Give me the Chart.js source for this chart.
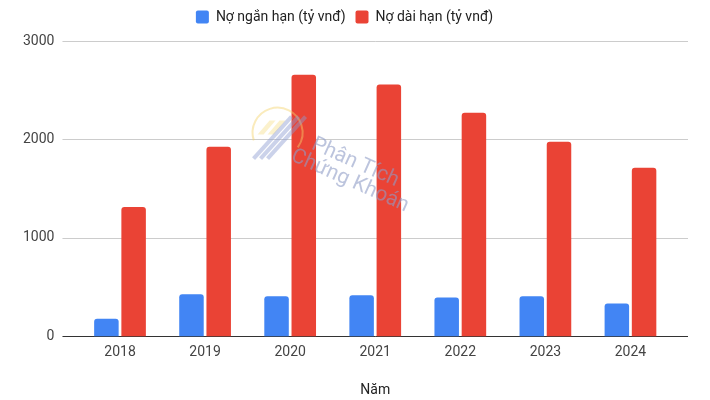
<!DOCTYPE html>
<html>
<head>
<meta charset="utf-8">
<script src="https://cdn.jsdelivr.net/npm/chart.js@4.4.1/dist/chart.umd.min.js"></script>
<style>
html,body{margin:0;padding:0;background:#fff;}
#wrap{width:710px;height:400px;position:relative;}
</style>
</head>
<body>
<div id="wrap"><canvas id="c"></canvas></div>
<script>
const categories = ['2018','2019','2020','2021','2022','2023','2024'];
const shortDebt = [180, 429, 409, 419, 394, 409, 333];
const longDebt = [1314, 1927, 2656, 2557, 2271, 1978, 1712];
const seriesNames = ['Nợ ngắn hạn (tỷ vnđ)', 'Nợ dài hạn (tỷ vnđ)'];
const xTitle = 'Năm';
const yTicks = [0, 1000, 2000, 3000];
const watermark = ['Phân Tích', 'Chứng Khoán'];

const FONT = 'Roboto';

const legendGap = {
  id: 'legendGap',
  beforeUpdate(chart) {
    if (chart.legend && !chart.legend._gapPatched) {
      const orig = chart.legend.fit;
      chart.legend.fit = function () { orig.call(this); this.height += 7; };
      chart.legend._gapPatched = true;
    }
  },
  afterLayout(chart) {
    if (chart.legend) { chart.legend.left += 16; }
  }
};

const gridPlugin = {
  id: 'extGrid',
  beforeDatasetsDraw(chart) {
    const {ctx, chartArea, scales} = chart;
    const y = scales.y;
    const ext = 15;
    ctx.save();
    y.ticks.forEach(t => {
      const py = Math.round(y.getPixelForValue(t.value)) + 0.5;
      ctx.beginPath();
      ctx.lineWidth = 1;
      ctx.strokeStyle = t.value === 0 ? '#333333' : '#cccccc';
      ctx.moveTo(chartArea.left - ext, py);
      ctx.lineTo(chartArea.right + ext, py);
      ctx.stroke();
    });
    ctx.restore();
  },
  afterDraw(chart) {
    const {ctx, chartArea} = chart;
    const cx = chartArea.left + (chartArea.right - chartArea.left) * 0.336;
    const cy = chartArea.top + (chartArea.bottom - chartArea.top) * 0.30;
    ctx.save();
    ctx.globalAlpha = 0.45;
    ctx.strokeStyle = '#f3d36b';
    ctx.lineWidth = 2;
    ctx.beginPath();
    ctx.arc(cx, cy + 3, 25, Math.PI * 0.9, Math.PI * 2.2);
    ctx.stroke();
    ctx.fillStyle = '#f6e08f';
    ctx.beginPath();
    ctx.moveTo(cx - 20, cy + 5); ctx.lineTo(cx - 8, cy - 9); ctx.lineTo(cx - 2, cy - 9); ctx.lineTo(cx - 14, cy + 5); ctx.closePath(); ctx.fill();
    ctx.beginPath();
    ctx.moveTo(cx - 10, cy + 5); ctx.lineTo(cx + 2, cy - 9); ctx.lineTo(cx + 8, cy - 9); ctx.lineTo(cx - 4, cy + 5); ctx.closePath(); ctx.fill();
    ctx.strokeStyle = '#8c9bd0';
    ctx.lineWidth = 4;
    for (let i = 0; i < 3; i++) {
      ctx.beginPath();
      ctx.moveTo(cx - 24 + i * 7, cy + 29);
      ctx.lineTo(cx + 14 + i * 7, cy - 13);
      ctx.stroke();
    }
    ctx.globalAlpha = 0.6;
    ctx.fillStyle = '#8f9cc6';
    ctx.font = '21px ' + FONT;
    ctx.translate(cx + 35, cy + 14);
    ctx.rotate(0.42);
    ctx.fillText(watermark[0], 0, 0);
    ctx.fillText(watermark[1], -14, 19);
    ctx.restore();
  }
};

new Chart(document.getElementById('c'), {
  type: 'bar',
  data: {
    labels: categories,
    datasets: [
      {
        label: seriesNames[0],
        data: shortDebt,
        backgroundColor: '#4285F4',
        borderRadius: {topLeft: 3, topRight: 3, bottomLeft: 0, bottomRight: 0},
        borderSkipped: 'bottom',
        categoryPercentage: 0.64,
        barPercentage: 0.9
      },
      {
        label: seriesNames[1],
        data: longDebt,
        backgroundColor: '#EA4335',
        borderRadius: {topLeft: 3, topRight: 3, bottomLeft: 0, bottomRight: 0},
        borderSkipped: 'bottom',
        categoryPercentage: 0.64,
        barPercentage: 0.9
      }
    ]
  },
  options: {
    responsive: true,
    maintainAspectRatio: false,
    animation: false,
    devicePixelRatio: 1,
    layout: {padding: {left: 0, right: 37, top: 0, bottom: 1}},
    plugins: {
      legend: {
        position: 'top',
        align: 'center',
        labels: {
          font: {family: FONT, size: 14},
          color: '#222222',
          boxWidth: 13,
          boxHeight: 13,
          padding: 10,
          useBorderRadius: true,
          borderRadius: 2
        }
      },
      tooltip: {enabled: false}
    },
    scales: {
      x: {
        grid: {display: false, drawTicks: false},
        border: {display: false},
        ticks: {font: {family: FONT, size: 14}, color: '#444444', padding: 8},
        title: {
          display: true,
          text: xTitle,
          font: {family: FONT, size: 14},
          color: '#222222',
          padding: {top: 13, bottom: 0}
        }
      },
      y: {
        min: yTicks[0],
        max: yTicks[yTicks.length - 1],
        afterBuildTicks(scale) { scale.ticks = yTicks.map(v => ({value: v})); },
        grid: {display: false, drawTicks: false},
        border: {display: false},
        ticks: {
          font: {family: FONT, size: 14}, color: '#444444', padding: 23,
          callback: (v) => String(v)
        }
      }
    }
  },
  plugins: [legendGap, gridPlugin]
});
</script>
</body>
</html>
